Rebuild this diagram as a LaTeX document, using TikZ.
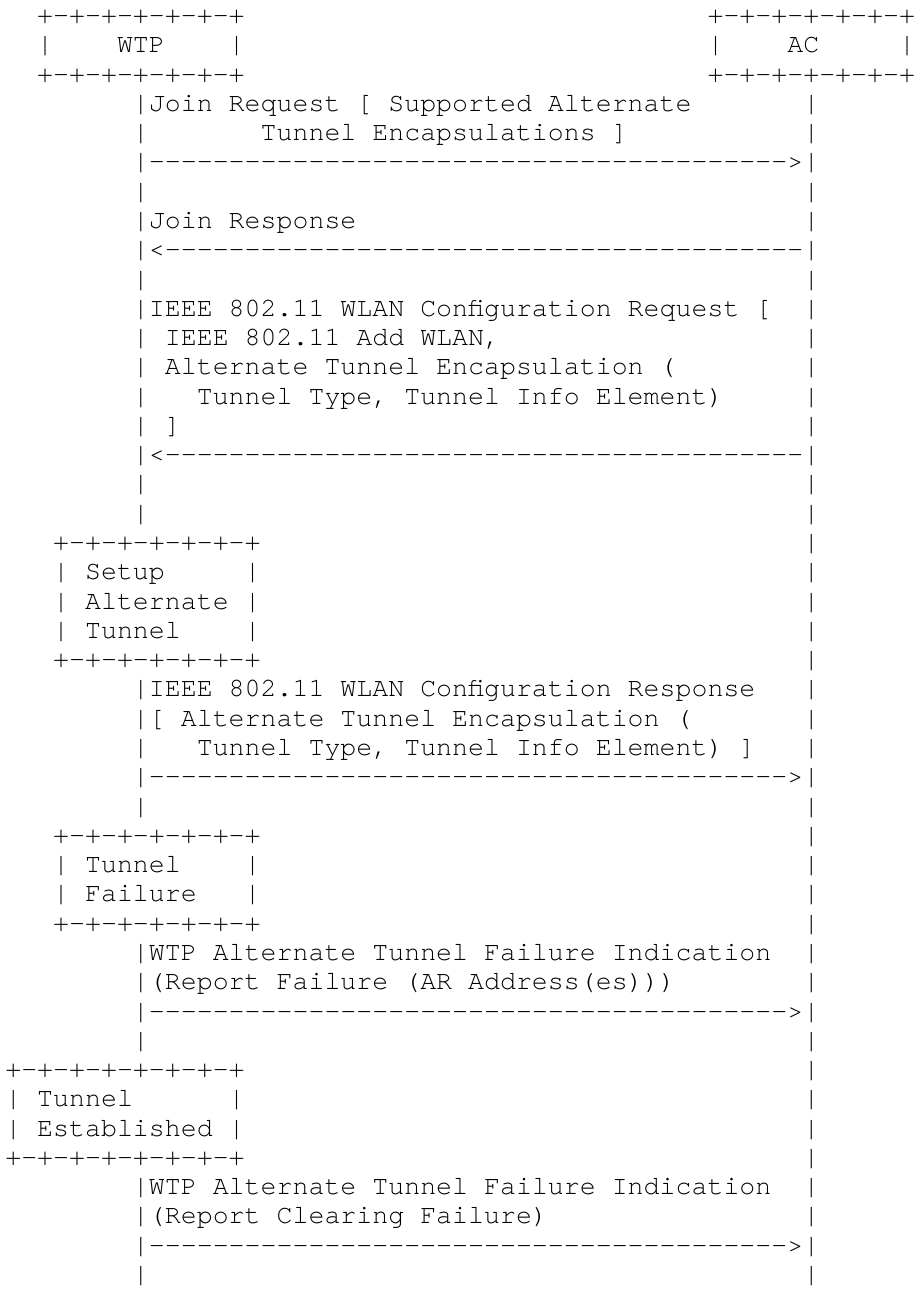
\documentclass[tikz,border=0pt]{standalone}
\usepackage{fontspec}
\setmonofont{TeX Gyre Cursor}
\tikzset{
  txt/.style={anchor=base west, inner sep=0pt, outer sep=0pt, text=black,
    font=\ttfamily\fontsize{26.6pt}{29.28pt}\selectfont}
}
\newcommand\asc[4]{\node[txt] (#1) at ({5.3+#2*15.96},{-(23.5+(#3-1)*29.28)}) {#4};}
\newcommand\dsh{----------------------------------------}
\begin{document}
\begin{tikzpicture}[x=1pt,y=1pt]
\fill[white] (0,0) rectangle (916,-1290);
\useasboundingbox (0,0) rectangle (916,-1290);
% header boxes
\asc{wtpTop}{2}{1}{+-+-+-+-+-+-+}
\asc{acTop}{44}{1}{+-+-+-+-+-+-+}
\asc{wtpL}{2}{2}{|}
\asc{wtp}{7}{2}{WTP}
\asc{wtpR}{14}{2}{|}
\asc{acL}{44}{2}{|}
\asc{ac}{49}{2}{AC}
\asc{acR}{56}{2}{|}
\asc{wtpBot}{2}{3}{+-+-+-+-+-+-+}
\asc{acBot}{44}{3}{+-+-+-+-+-+-+}
% Join Request
\asc{r4a}{8}{4}{|Join Request [ Supported Alternate}
\asc{r4b}{50}{4}{|}
\asc{r5a}{8}{5}{|}
\asc{r5b}{16}{5}{Tunnel Encapsulations ]}
\asc{r5c}{50}{5}{|}
\asc{r6}{8}{6}{|\dsh>|}
\asc{r7a}{8}{7}{|}
\asc{r7b}{50}{7}{|}
% Join Response
\asc{r8a}{8}{8}{|Join Response}
\asc{r8b}{50}{8}{|}
\asc{r9}{8}{9}{|<\dsh|}
\asc{r10a}{8}{10}{|}
\asc{r10b}{50}{10}{|}
% WLAN Configuration Request
\asc{r11a}{8}{11}{|IEEE 802.11 WLAN Configuration Request [}
\asc{r11b}{50}{11}{|}
\asc{r12a}{8}{12}{|}
\asc{r12b}{10}{12}{IEEE 802.11 Add WLAN,}
\asc{r12c}{50}{12}{|}
\asc{r13a}{8}{13}{|}
\asc{r13b}{10}{13}{Alternate Tunnel Encapsulation (}
\asc{r13c}{50}{13}{|}
\asc{r14a}{8}{14}{|}
\asc{r14b}{12}{14}{Tunnel Type, Tunnel Info Element)}
\asc{r14c}{50}{14}{|}
\asc{r15a}{8}{15}{|}
\asc{r15b}{10}{15}{]}
\asc{r15c}{50}{15}{|}
\asc{r16}{8}{16}{|<\dsh|}
\asc{r17a}{8}{17}{|}
\asc{r17b}{50}{17}{|}
\asc{r18a}{8}{18}{|}
\asc{r18b}{50}{18}{|}
% Setup Alternate Tunnel box
\asc{sTop}{3}{19}{+-+-+-+-+-+-+}
\asc{r19b}{50}{19}{|}
\asc{r20a}{3}{20}{|}
\asc{r20b}{5}{20}{Setup}
\asc{r20c}{15}{20}{|}
\asc{r20d}{50}{20}{|}
\asc{r21a}{3}{21}{|}
\asc{r21b}{5}{21}{Alternate}
\asc{r21c}{15}{21}{|}
\asc{r21d}{50}{21}{|}
\asc{r22a}{3}{22}{|}
\asc{r22b}{5}{22}{Tunnel}
\asc{r22c}{15}{22}{|}
\asc{r22d}{50}{22}{|}
\asc{sBot}{3}{23}{+-+-+-+-+-+-+}
\asc{r23b}{50}{23}{|}
% WLAN Configuration Response
\asc{r24a}{8}{24}{|IEEE 802.11 WLAN Configuration Response}
\asc{r24b}{50}{24}{|}
\asc{r25a}{8}{25}{|[ Alternate Tunnel Encapsulation (}
\asc{r25b}{50}{25}{|}
\asc{r26a}{8}{26}{|}
\asc{r26b}{12}{26}{Tunnel Type, Tunnel Info Element) ]}
\asc{r26c}{50}{26}{|}
\asc{r27}{8}{27}{|\dsh>|}
\asc{r28a}{8}{28}{|}
\asc{r28b}{50}{28}{|}
% Tunnel Failure box
\asc{fTop}{3}{29}{+-+-+-+-+-+-+}
\asc{r29b}{50}{29}{|}
\asc{r30a}{3}{30}{|}
\asc{r30b}{5}{30}{Tunnel}
\asc{r30c}{15}{30}{|}
\asc{r30d}{50}{30}{|}
\asc{r31a}{3}{31}{|}
\asc{r31b}{5}{31}{Failure}
\asc{r31c}{15}{31}{|}
\asc{r31d}{50}{31}{|}
\asc{fBot}{3}{32}{+-+-+-+-+-+-+}
\asc{r32b}{50}{32}{|}
% Failure Indication
\asc{r33a}{8}{33}{|WTP Alternate Tunnel Failure Indication}
\asc{r33b}{50}{33}{|}
\asc{r34a}{8}{34}{|(Report Failure (AR Address(es)))}
\asc{r34b}{50}{34}{|}
\asc{r35}{8}{35}{|\dsh>|}
\asc{r36a}{8}{36}{|}
\asc{r36b}{50}{36}{|}
% Tunnel Established box
\asc{eTop}{0}{37}{+-+-+-+-+-+-+-+}
\asc{r37b}{50}{37}{|}
\asc{r38a}{0}{38}{|}
\asc{r38b}{2}{38}{Tunnel}
\asc{r38c}{14}{38}{|}
\asc{r38d}{50}{38}{|}
\asc{r39a}{0}{39}{|}
\asc{r39b}{2}{39}{Established}
\asc{r39c}{14}{39}{|}
\asc{r39d}{50}{39}{|}
\asc{eBot}{0}{40}{+-+-+-+-+-+-+-+}
\asc{r40b}{50}{40}{|}
% Clearing Failure Indication
\asc{r41a}{8}{41}{|WTP Alternate Tunnel Failure Indication}
\asc{r41b}{50}{41}{|}
\asc{r42a}{8}{42}{|(Report Clearing Failure)}
\asc{r42b}{50}{42}{|}
\asc{r43}{8}{43}{|\dsh>|}
\asc{r44a}{8}{44}{|}
\asc{r44b}{50}{44}{|}
\end{tikzpicture}
\end{document}
